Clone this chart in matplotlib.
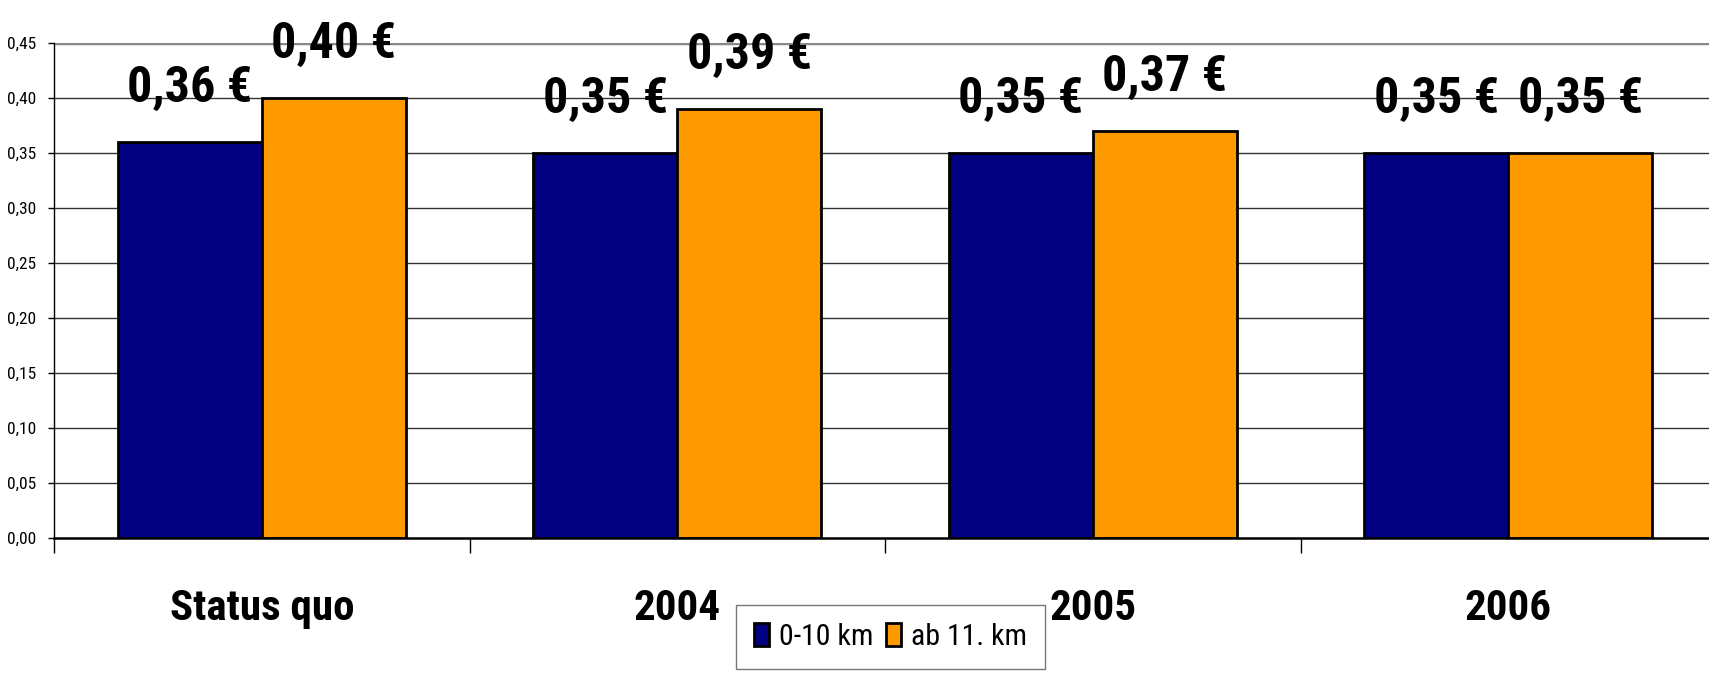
import matplotlib
matplotlib.use("Agg")
import matplotlib.pyplot as plt
import numpy as np

categories = ["Status quo", "2004", "2005", "2006"]
near_km = [0.36, 0.35, 0.35, 0.35]
far_km = [0.40, 0.39, 0.37, 0.35]
series_names = ["0-10 km", "ab 11. km"]
y_ticks = [0.00, 0.05, 0.10, 0.15, 0.20, 0.25, 0.30, 0.35, 0.40, 0.45]

plt.rcParams['font.family'] = ['Roboto Condensed', 'Liberation Sans', 'DejaVu Sans']


def euro(v):
    return '{:.2f} €'.format(v).replace('.', ',')


fig = plt.figure(figsize=(17.09, 6.78), dpi=100)
ax = fig.add_axes([54 / 1709, 140 / 678, 1662 / 1709, 495 / 678])

x = np.arange(len(categories))
w = 0.347
b1 = ax.bar(x - w / 2, near_km, w, color='#000080', edgecolor='black', linewidth=2,
            label=series_names[0], zorder=3)
b2 = ax.bar(x + w / 2, far_km, w, color='#FF9900', edgecolor='black', linewidth=2,
            label=series_names[1], zorder=3)

for bars, vals in ((b1, near_km), (b2, far_km)):
    for rect, v in zip(bars, vals):
        ax.annotate(euro(v), (rect.get_x() + rect.get_width() / 2, v),
                    xytext=(0, 29), textcoords='offset points',
                    ha='center', va='baseline', fontsize=36, fontweight='bold', zorder=5)

ax.set_xlim(-0.5, 3.5)
ax.set_ylim(0, 0.45)

ax.set_yticks(y_ticks)
ax.set_yticklabels(['{:.2f}'.format(t).replace('.', ',') for t in y_ticks], fontsize=12.5)
ax.tick_params(axis='y', length=4, width=1, pad=9)

ax.set_xticks(x)
ax.set_xticklabels(categories, fontsize=31, fontweight='bold')
ax.tick_params(axis='x', which='major', length=0, pad=36)
ax.set_xticks(np.arange(-0.5, 3.6, 1.0), minor=True)
ax.tick_params(axis='x', which='minor', length=11, width=1, direction='out')

for t in y_ticks[1:-1]:
    ax.axhline(t, color='#333333', linewidth=1, zorder=1)
ax.axhline(0.45, color='#888888', linewidth=2.5, zorder=1)

for s in ('top', 'right'):
    ax.spines[s].set_visible(False)
ax.spines['left'].set_linewidth(1)
ax.spines['bottom'].set_linewidth(1.8)
ax.spines['bottom'].set_zorder(4)

fig.legend(loc='upper left', bbox_to_anchor=(736 / 1709, 1 - 605 / 678), ncol=2,
           fontsize=21.5, frameon=True, fancybox=False, edgecolor='#555555',
           handlelength=0.5, handleheight=0.8, handletextpad=0.35, columnspacing=0.4,
           borderpad=0.6, borderaxespad=0)

fig.savefig('out.png', dpi=100)
